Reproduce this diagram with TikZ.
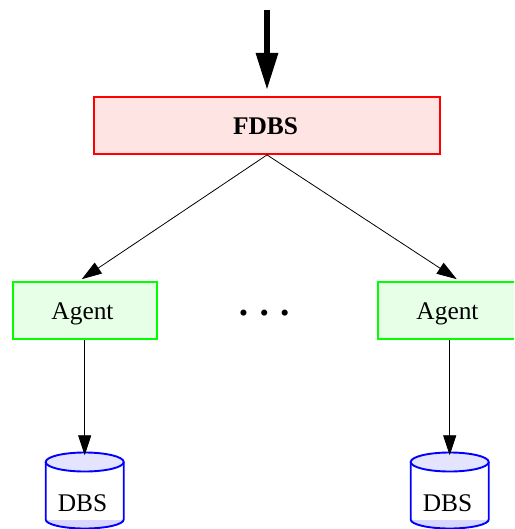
\documentclass[tikz,border=0pt]{standalone}
\usepackage{fontspec}
\setmainfont{Liberation Serif}
\usetikzlibrary{arrows.meta}
\definecolor{redfill}{RGB}{255,228,228}
\definecolor{greenfill}{RGB}{230,255,230}
\definecolor{bluefill}{RGB}{228,228,255}
\definecolor{basefill}{RGB}{215,215,255}
\tikzset{
  x=1pt,y=-1pt,
  lbl/.style={font=\fontsize{25.4}{28}\selectfont,text=black,inner sep=0pt,anchor=base},
  fdbsbox/.style={draw={rgb,255:red,255;green,0;blue,0},fill=redfill,line width=1.8pt,minimum width=346pt,minimum height=57pt,inner sep=0pt},
  agentbox/.style={draw={rgb,255:red,0;green,255;blue,0},fill=greenfill,line width=1.8pt,minimum width=144pt,minimum height=57pt,inner sep=0pt},
  thin arrow/.style={line width=0.8pt,-{Triangle[length=20pt,width=13pt]},shorten >=-0.3pt},
  thick arrow/.style={line width=6pt,-{Triangle[length=37pt,width=21pt]}},
  cylrim/.style={draw=blue,line width=1.9pt},
}
\begin{document}
\begin{tikzpicture}
\useasboundingbox (0,0) rectangle (514,529);
\clip (0,0) rectangle (514,529);
\coordinate (entry) at (267,10);
\coordinate (entrytip) at (267,90);
\node[fdbsbox] (fdbs) at (267,125.5) {};
\node[lbl,font=\fontsize{25.4}{28}\selectfont\bfseries] (fdbslabel) at (265.5,135) {FDBS};
\node[agentbox] (agentL) at (85,310.5) {};
\node[agentbox] (agentR) at (450,310.5) {};
\node[lbl] (agentLlabel) at (82.5,319) {Agent};
\node[lbl] (agentRlabel) at (447.5,319) {Agent};
\node[font=\fontsize{25.4}{28}\selectfont,inner sep=0pt] (dots) at (264.2,316) {\hbox to 50pt{•\hfil•\hfil•}};
% cylinders
\foreach \n/\cx in {L/84.7,R/449.7}{
  \fill[basefill] (\cx-39,520) -- (\cx+39,520) -- (\cx+39,522) .. controls (\cx+20,531) and (\cx-20,531) .. (\cx-39,522) -- cycle;
  \draw[cylrim] (\cx-39,462) -- (\cx-39,519.5) arc[start angle=180,end angle=0,x radius=39,y radius=9] -- (\cx+39,462);
  \draw[cylrim,fill=bluefill] (\cx,462) ellipse[x radius=39,y radius=9.5];
  \coordinate (cyl\n) at (\cx,455);
}
\node[lbl] (dbsL) at (82.5,511.5) {DBS};
\node[lbl] (dbsR) at (447.5,511.5) {DBS};
\draw[thick arrow] (entry) -- (entrytip);
\draw[thin arrow] (fdbs.south) -- (82,279);
\draw[thin arrow] (fdbs.south) -- (456.5,279);
\draw[thin arrow] (agentL.south -| cylL) -- (cylL);
\draw[thin arrow] (agentR.south -| cylR) -- (cylR);
\end{tikzpicture}
\end{document}
